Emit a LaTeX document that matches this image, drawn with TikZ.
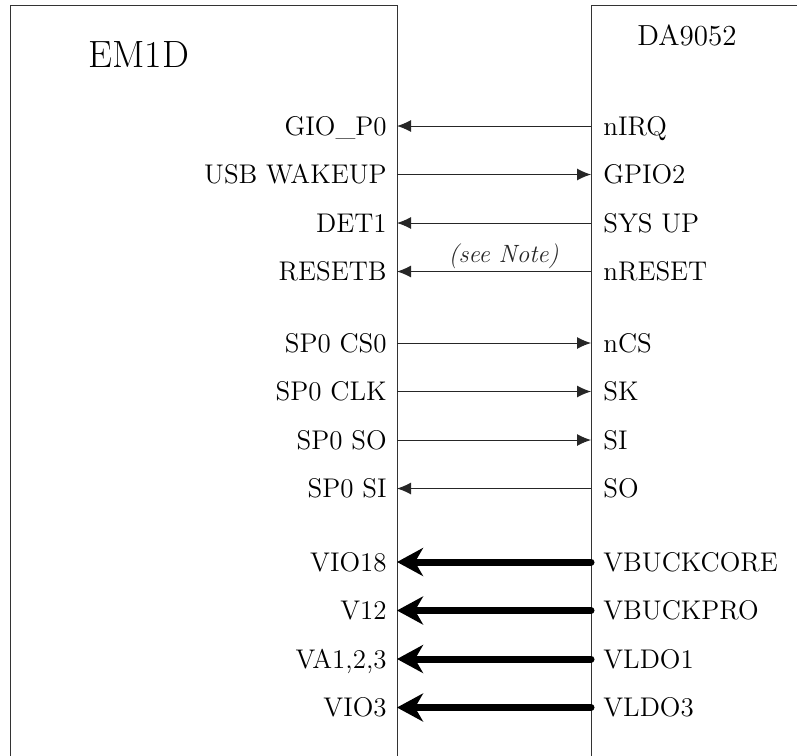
\documentclass[tikz,border=0pt]{standalone}
\usepackage{tikz}
\usetikzlibrary{arrows.meta, positioning}

\begin{document}
\begin{tikzpicture}[
    x=0.5pt, y=-0.5pt,
    % === STYLES ===
    chip/.style={
        rectangle,
        draw=black!80,
        line width=0.5pt,
        anchor=north west,
        inner sep=0pt
    },
    title/.style={
        font=\fontsize{#1}{#1}\selectfont,
        inner sep=0pt
    },
    title/.default=19,
    pinl/.style={
        font=\fontsize{13.5}{16}\selectfont,
        text height=9.2pt,
        text depth=0pt,
        anchor=east,
        inner xsep=5pt,
        inner ysep=0pt
    },
    pinr/.style={
        font=\fontsize{13.5}{16}\selectfont,
        text height=9.2pt,
        text depth=0pt,
        anchor=west,
        inner xsep=6pt,
        inner ysep=0pt
    },
    sig/.style={
        -{Latex[length=7pt, width=6pt]},
        line width=0.5pt,
        color=black!85
    },
    pwr/.style={
        -{Stealth[length=13pt, width=14pt, inset=4pt]},
        line width=3.5pt,
        line cap=round,
        color=black
    },
    note/.style={
        font=\fontsize{12.5}{14}\selectfont\itshape,
        inner sep=1pt
    }
]
\useasboundingbox (0,0) rectangle (797,755);

% === CHIPS ===
\node[chip, minimum width=193.5pt, minimum height=390pt] (em1d) at (10,5) {};
\node[chip, minimum width=120pt, minimum height=390pt] (da9052) at (591,5) {};

\node[title=19] (em1dname) at (139,55) {EM1D};
\node[title=14.5] (daname) at (687,35) {DA9052};

% === EM1D PINS ===
\node[pinl] (gio) at (397,126) {GIO\_P0};
\node[pinl] (usbwake) at (397,174.5) {USB WAKEUP};
\node[pinl] (det1) at (397,223) {DET1};
\node[pinl] (resetb) at (397,271.5) {RESETB};

\node[pinl] (cs0) at (397,343) {SP0 CS0};
\node[pinl] (clk) at (397,391.5) {SP0 CLK};
\node[pinl] (spso) at (397,440) {SP0 SO};
\node[pinl] (spsi) at (397,488.5) {SP0 SI};

\node[pinl] (vio18) at (397,562) {VIO18};
\node[pinl] (v12) at (397,610.5) {V12};
\node[pinl] (va123) at (397,659) {VA1,2,3};
\node[pinl] (vio3) at (397,707.5) {VIO3};

% === DA9052 PINS ===
\node[pinr] (nirq) at (591,126) {nIRQ};
\node[pinr] (gpio2) at (591,174.5) {GPIO2};
\node[pinr] (sysup) at (591,223) {SYS UP};
\node[pinr] (nreset) at (591,271.5) {nRESET};

\node[pinr] (ncs) at (591,343) {nCS};
\node[pinr] (sk) at (591,391.5) {SK};
\node[pinr] (si) at (591,440) {SI};
\node[pinr] (so) at (591,488.5) {SO};

\node[pinr] (vbuckcore) at (591,562) {VBUCKCORE};
\node[pinr] (vbuckpro) at (591,610.5) {VBUCKPRO};
\node[pinr] (vldo1) at (591,659) {VLDO1};
\node[pinr] (vldo3) at (591,707.5) {VLDO3};

% === CONTROL SIGNALS ===
\draw[sig] (nirq.west) -- (gio.east);
\draw[sig] (usbwake.east) -- (gpio2.west);
\draw[sig] (sysup.west) -- (det1.east);
\draw[sig] (nreset.west) -- node[note, pos=0.45, above] (seenote) {(see Note)} (resetb.east);

% === SPI ===
\draw[sig] (cs0.east) -- (ncs.west);
\draw[sig] (clk.east) -- (sk.west);
\draw[sig] (spso.east) -- (si.west);
\draw[sig] (so.west) -- (spsi.east);

% === SUPPLIES ===
\draw[pwr] (vbuckcore.west) -- (vio18.east);
\draw[pwr] (vbuckpro.west) -- (v12.east);
\draw[pwr] (vldo1.west) -- (va123.east);
\draw[pwr] (vldo3.west) -- (vio3.east);

\end{tikzpicture}
\end{document}
